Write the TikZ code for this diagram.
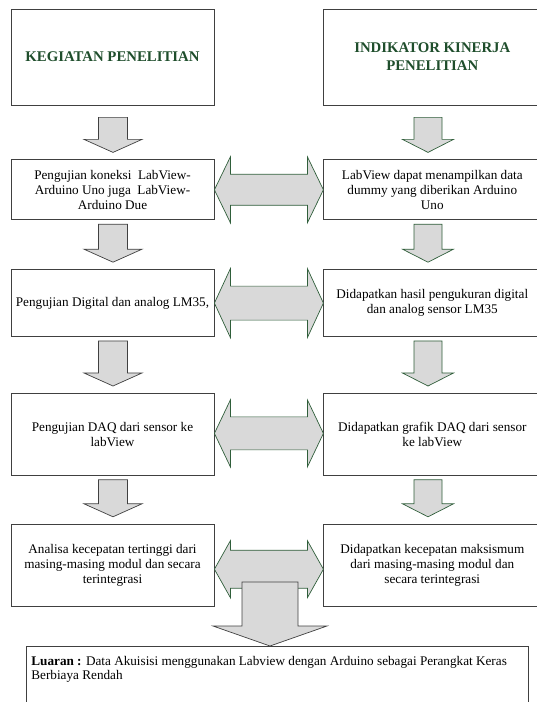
\documentclass[tikz,border=0pt]{standalone}
\usepackage{fontspec}
\setmainfont{Liberation Serif}
\usetikzlibrary{positioning,calc}
\definecolor{judulhijau}{HTML}{1F4E2C}
\definecolor{garishijau}{HTML}{2F5E3A}
\definecolor{garisabu}{HTML}{404040}
\definecolor{isiabu}{HTML}{D9D9D9}

% down block arrow: style, top point, bottom point, shaft half, head half, top gap
\newcommand{\panahturun}[6]{%
    \draw[#1] let \p1=(#2), \p2=(#3) in
        (\x1-#4bp,\y1-#6bp) -- (\x1+#4bp,\y1-#6bp) -- (\x1+#4bp,\y2+20bp)
        -- (\x1+#5bp,\y2+20bp) -- (\x1,\y2+7bp) -- (\x1-#5bp,\y2+20bp)
        -- (\x1-#4bp,\y2+20bp) -- cycle;
}
% double block arrow: style, left node, right node, shift, shaft half, head half
\newcommand{\panahganda}[6]{%
    \draw[#1] let \p1=(#2.east), \p2=(#3.west) in
        (\x1,\y1+#4bp) -- (\x1+16bp,\y1+#4bp+#6bp) -- (\x1+16bp,\y1+#4bp+#5bp)
        -- (\x2-16bp,\y1+#4bp+#5bp) -- (\x2-16bp,\y1+#4bp+#6bp) -- (\x2,\y1+#4bp)
        -- (\x2-16bp,\y1+#4bp-#6bp) -- (\x2-16bp,\y1+#4bp-#5bp)
        -- (\x1+16bp,\y1+#4bp-#5bp) -- (\x1+16bp,\y1+#4bp-#6bp) -- cycle;
}

\begin{document}
\begin{tikzpicture}[
    x=1bp, y=-1bp,
    every node/.style={font=\fontsize{13.2bp}{15bp}\selectfont},
    judulbox/.style={
        draw=garisabu, line width=0.8pt, inner sep=0pt,
        minimum height=96bp, align=center, text=judulhijau,
        font=\fontsize{14.8bp}{18bp}\selectfont\bfseries
    },
    kiribox/.style={
        draw=garisabu, line width=0.8pt, inner sep=0pt,
        minimum width=203bp, align=center
    },
    kananbox/.style={
        draw=garisabu, line width=0.8pt, inner sep=0pt,
        minimum width=217bp, align=center
    },
    panahabu/.style={draw=garisabu, fill=isiabu, line width=0.7pt},
    panahhijau/.style={draw=garishijau, fill=isiabu, line width=0.7pt},
]
\useasboundingbox (0,0) rectangle (537,702);

% === Headers ===
\node[judulbox, minimum width=203bp] (keg) at (112.5,57) {KEGIATAN PENELITIAN};
\node[judulbox, minimum width=217bp, right=109bp of keg] (ind)
    {INDIKATOR KINERJA\\PENELITIAN};

% === Left column: kegiatan ===
\node[kiribox, minimum height=60bp, below=54bp of keg] (k1)
    {Pengujian koneksi \ LabView-\\Arduino Uno juga \ LabView-\\Arduino Due};
\node[kiribox, minimum height=67bp, below=49bp of k1] (k2)
    {Pengujian Digital dan analog LM35,};
\node[kiribox, minimum height=82bp, below=56bp of k2] (k3)
    {Pengujian DAQ dari sensor ke\\labView};
\node[kiribox, minimum height=82bp, below=48bp of k3] (k4)
    {Analisa kecepatan tertinggi dari\\masing-masing modul dan secara\\terintegrasi};

% === Right column: indikator ===
\node[kananbox, minimum height=60bp, right=109bp of k1] (i1)
    {LabView dapat menampilkan data\\dummy yang diberikan Arduino\\Uno};
\node[kananbox, minimum height=67bp, right=109bp of k2] (i2)
    {Didapatkan hasil pengukuran digital\\dan analog sensor LM35};
\node[kananbox, minimum height=82bp, right=109bp of k3] (i3)
    {Didapatkan grafik DAQ dari sensor\\ke labView};
\node[kananbox, minimum height=82bp, right=109bp of k4] (i4)
    {Didapatkan kecepatan maksismum\\dari masing-masing modul dan\\secara terintegrasi};

% === Bottom: luaran ===
\node[draw=garisabu, line width=0.8pt, anchor=north west, inner xsep=5bp, inner ysep=10bp,
    minimum width=502bp, text width=492bp, align=flush left, text depth=50bp,
    font=\fontsize{13.2bp}{14bp}\selectfont] (luaran) at (26,646)
    {\textbf{Luaran :} Data Akuisisi menggunakan Labview dengan Arduino sebagai Perangkat Keras\\Berbiaya Rendah};

% column axes for the down arrows
\coordinate (kiri) at (113,0);
\coordinate (kanan) at (428,0);
\coordinate (tengah) at (270,0);

% Down arrows
\panahturun{panahabu}{kiri |- keg.south}{kiri |- k1.north}{14.5}{29}{12}
\panahturun{panahhijau}{kanan |- ind.south}{kanan |- i1.north}{14}{25.5}{12}
\foreach \a/\b in {k1/k2,k2/k3,k3/k4} {
    \panahturun{panahabu}{kiri |- \a.south}{kiri |- \b.north}{14.5}{29}{4}
}
\foreach \a/\b in {i1/i2,i2/i3,i3/i4} {
    \panahturun{panahhijau}{kanan |- \a.south}{kanan |- \b.north}{14}{25.5}{4}
}

% Double arrows between columns
\foreach \a/\b/\d/\s/\h in {k1/i1/0/15.5/33, k2/i2/0/17/34.5, k3/i3/1/16.5/33.5, k4/i4/-4/19/28.5} {
    \panahganda{panahhijau}{\a}{\b}{\d}{\s}{\h}
}

% Big arrow to luaran
\draw[panahabu] let \p1=(tengah |- luaran.north) in
    (\x1-28bp,\y1+64bp) -- (\x1+28bp,\y1+64bp) -- (\x1+28bp,\y1+20bp)
    -- (\x1+57bp,\y1+20bp) -- (\x1,\y1) -- (\x1-57bp,\y1+20bp)
    -- (\x1-28bp,\y1+20bp) -- cycle;

\end{tikzpicture}
\end{document}
